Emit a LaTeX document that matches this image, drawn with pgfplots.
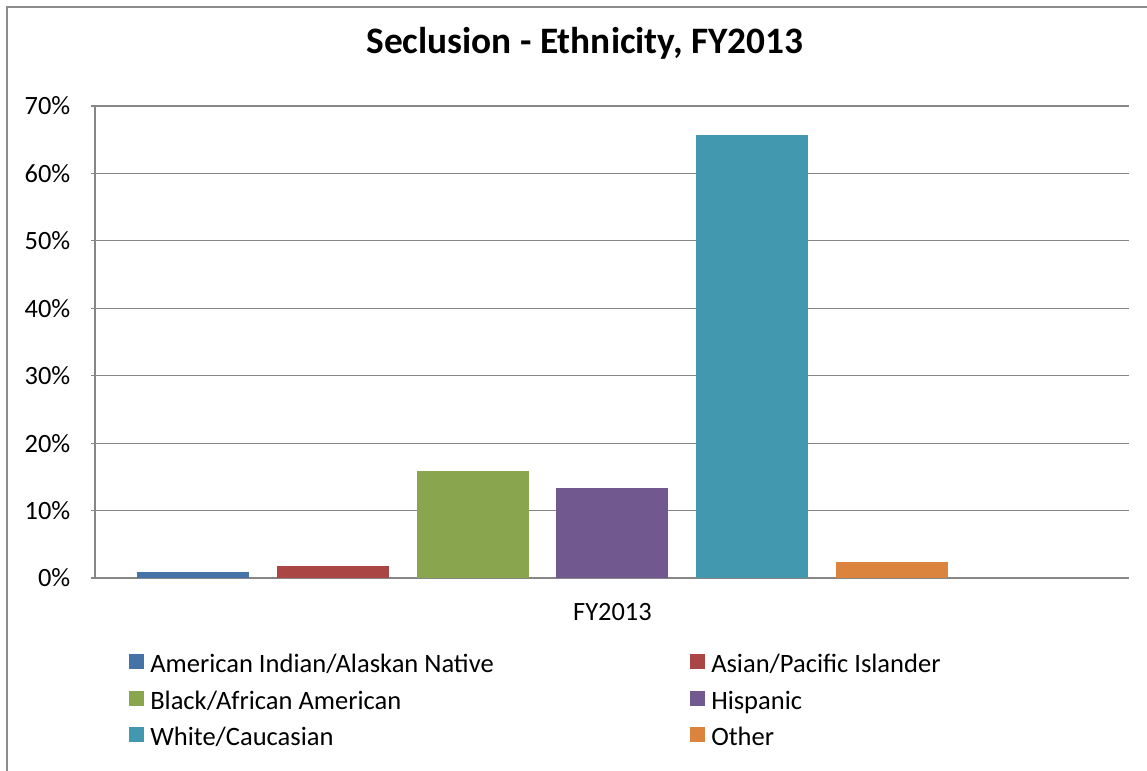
\documentclass[border=0pt]{standalone}
\usepackage{fontspec}
\setmainfont{Carlito}
\usepackage{pgfplots}
\pgfplotsset{compat=1.18}
\definecolor{cblue}{HTML}{4572A7}
\definecolor{cred}{HTML}{AA4643}
\definecolor{cgreen}{HTML}{89A54E}
\definecolor{cpurple}{HTML}{71588F}
\definecolor{cteal}{HTML}{4198AF}
\definecolor{corange}{HTML}{DB843D}
\definecolor{gridgray}{HTML}{868686}
\definecolor{bordergray}{HTML}{8C8C8C}

\begin{document}
\begin{tikzpicture}
\useasboundingbox (-71.25pt,-144.75pt) rectangle (789pt,433.5pt);
\draw[bordergray, line width=1.5pt] (-66pt,-144.75pt) -- (-66pt,428.25pt) -- (789pt,428.25pt);
\node[anchor=base, font=\fontsize{28}{34}\selectfont\bfseries] at (367.5pt,393.5pt) {Seclusion - Ethnicity, FY2013};
\begin{axis}[
    at={(0,0)}, anchor=south west,
    scale only axis,
    width=775.5pt, height=354pt,
    xmin=-0.701, xmax=6.695,
    ymin=0, ymax=70,
    axis x line*=bottom,
    axis y line*=left,
    axis line style={-, draw=gridgray, line width=1.1pt},
    ymajorgrids,
    grid style={gridgray, line width=0.8pt},
    ytick={0,10,...,70},
    yticklabel={\pgfmathprintnumber{\tick}\%},
    tick align=outside,
    major tick length=3pt,
    ytick style={gridgray, line width=0.8pt},
    xtick={3}, xticklabels={FY2013},
    xtick style={draw=none},
    ticklabel style={font=\fontsize{19.8}{24}\selectfont},
    /pgf/number format/assume math mode=true,
    yticklabel style={xshift=-12pt},
    xticklabel style={yshift=-12.5pt},
    legend columns=2,
    legend cell align=left,
    legend style={
        draw=none, fill=none,
        at={(22.5pt,-54.85pt)}, anchor=north west,
        font=\fontsize{19.9}{24}\selectfont,
        nodes={inner sep=0pt, text height=14pt, text depth=4pt},
        row sep=9.25pt,
        /tikz/every odd column/.append style={column sep=4.5pt},
        /tikz/every even column/.append style={column sep=0pt},
    },
    legend image code/.code={\fill[#1] (0pt,-2.5pt) rectangle (11.25pt,8.75pt);},
]
\addplot[ybar, bar width=0.8, fill=cblue, draw=none] coordinates {(0,0.9)};
\addlegendentry{\makebox[405pt][l]{American Indian/Alaskan Native}}
\addplot[ybar, bar width=0.8, fill=cred, draw=none] coordinates {(1,1.8)};
\addlegendentry{Asian/Pacific Islander}
\addplot[ybar, bar width=0.8, fill=cgreen, draw=none] coordinates {(2,15.8)};
\addlegendentry{\makebox[405pt][l]{Black/African American}}
\addplot[ybar, bar width=0.8, fill=cpurple, draw=none] coordinates {(3,13.4)};
\addlegendentry{Hispanic}
\addplot[ybar, bar width=0.8, fill=cteal, draw=none] coordinates {(4,65.7)};
\addlegendentry{\makebox[405pt][l]{White/Caucasian}}
\addplot[ybar, bar width=0.8, fill=corange, draw=none] coordinates {(5,2.3)};
\addlegendentry{Other}
\end{axis}
\end{tikzpicture}
\end{document}
